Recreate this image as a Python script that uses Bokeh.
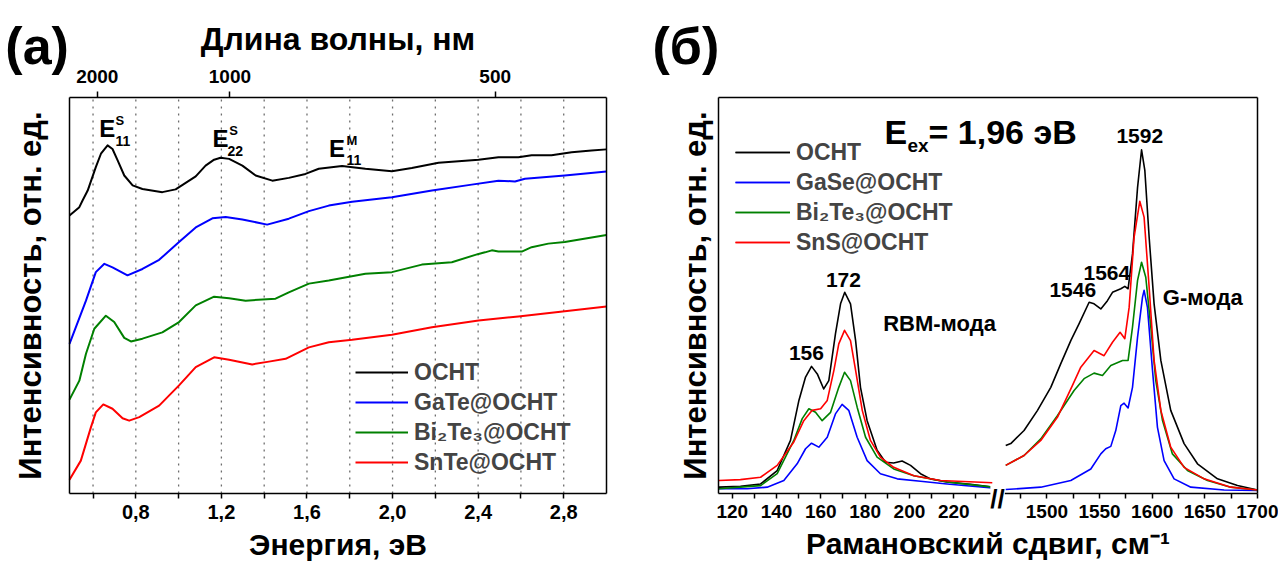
from bokeh.plotting import figure
from bokeh.models import FixedTicker, LinearAxis, Label, Legend, LegendItem, Range1d
from bokeh.layouts import row
from bokeh.embed import file_html
from bokeh.resources import INLINE

FONT = "Liberation Sans"

# ---------------- (a) absorption spectra: energy (eV) vs intensity (a.u., offset) ----------------
abs_e_osnt = [0.49, 0.536, 0.551, 0.575, 0.613, 0.637, 0.668, 0.691, 0.715, 0.746,
              0.785, 0.831, 0.924, 0.986, 1.080, 1.126, 1.166, 1.196, 1.236, 1.298,
              1.360, 1.438, 1.515, 1.593, 1.655, 1.764, 1.873, 1.997, 2.090, 2.215,
              2.402, 2.495, 2.588, 2.650, 2.743, 2.837, 2.930, 3.0]
abs_i_osnt = [7.02, 7.23, 7.40, 7.65, 8.24, 8.58, 8.79, 8.70, 8.41, 8.03,
              7.78, 7.69, 7.61, 7.68, 8.01, 8.28, 8.43, 8.48, 8.45, 8.28,
              8.03, 7.90, 7.97, 8.07, 8.20, 8.27, 8.20, 8.14, 8.22, 8.35,
              8.43, 8.49, 8.49, 8.54, 8.54, 8.62, 8.66, 8.69]

abs_e_gate = [0.49, 0.567, 0.613, 0.653, 0.691, 0.761, 0.831, 0.909, 1.002, 1.080,
              1.158, 1.220, 1.298, 1.414, 1.515, 1.609, 1.702, 1.811, 1.997, 2.184,
              2.370, 2.495, 2.572, 2.619, 2.805, 3.0]
abs_i_gate = [3.78, 4.87, 5.59, 5.80, 5.71, 5.51, 5.67, 5.90, 6.35, 6.72,
              6.95, 6.98, 6.92, 6.79, 6.94, 7.13, 7.27, 7.37, 7.48, 7.65,
              7.80, 7.90, 7.88, 7.95, 8.03, 8.13]

abs_e_bite = [0.49, 0.536, 0.567, 0.606, 0.660, 0.699, 0.746, 0.777, 0.831, 0.924,
              1.002, 1.080, 1.166, 1.236, 1.313, 1.453, 1.515, 1.609, 1.702, 1.873,
              1.997, 2.137, 2.277, 2.402, 2.432, 2.464, 2.495, 2.604, 2.650, 2.728,
              2.805, 3.0]
abs_i_bite = [2.37, 2.85, 3.53, 4.16, 4.49, 4.33, 3.93, 3.84, 3.91, 4.07,
              4.33, 4.75, 4.97, 4.93, 4.87, 4.92, 5.08, 5.30, 5.38, 5.55,
              5.59, 5.78, 5.84, 6.05, 6.09, 6.14, 6.11, 6.11, 6.22, 6.31,
              6.35, 6.53]

abs_e_snte = [0.49, 0.543, 0.590, 0.613, 0.648, 0.691, 0.738, 0.769, 0.816, 0.909,
              1.002, 1.080, 1.166, 1.236, 1.344, 1.422, 1.500, 1.609, 1.702, 1.811,
              1.997, 2.184, 2.402, 2.588, 2.805, 3.0]
abs_i_snte = [0.35, 0.83, 1.67, 2.05, 2.25, 2.14, 1.90, 1.84, 1.93, 2.22,
              2.73, 3.19, 3.44, 3.38, 3.26, 3.33, 3.40, 3.69, 3.82, 3.88,
              4.01, 4.20, 4.37, 4.47, 4.60, 4.72]

abs_labels = ["ОСНТ", "GaTe@ОСНТ", "Bi₂Te₃@ОСНТ", "SnTe@ОСНТ"]

energy_ticks = [0.6, 0.8, 1.0, 1.2, 1.4, 1.6, 1.8, 2.0, 2.2, 2.4, 2.6, 2.8]
energy_tick_labels = ["", "0,8", "", "1,2", "", "1,6", "", "2,0", "", "2,4", "", "2,8"]
wavelength_ticks = [2000, 1000, 500]
wavelength_tick_labels = ["2000", "1000", "500"]

# ---------------- (б) Raman spectra: shift (cm^-1) vs intensity ----------------
rbm_x_osnt = [114, 123.7, 132.8, 140.3, 146.3, 150.1, 153.1, 155.8, 158.4, 161.3,
              163.6, 166.6, 168.9, 170.8, 173.4, 175.7, 177.9, 180.9, 185.4, 189.2,
              192.9, 196.7, 200.5, 205.0, 209.5, 217.0, 227.6, 237.4]
rbm_i_osnt = [0.16, 0.18, 0.24, 0.58, 1.34, 2.35, 2.94, 3.21, 3.02, 2.64,
              2.85, 4.03, 4.79, 5.08, 4.79, 3.86, 2.68, 1.84, 1.09, 0.79,
              0.77, 0.82, 0.71, 0.50, 0.37, 0.29, 0.23, 0.16]

rbm_x_gase = [114, 126.8, 135.8, 143.3, 149.3, 153.1, 155.8, 159.1, 162.9, 166.6,
              169.6, 172.6, 176.4, 180.9, 186.9, 194.5, 205.0, 217.0, 237.4]
rbm_i_gase = [0.12, 0.12, 0.16, 0.33, 0.75, 1.13, 1.27, 1.17, 1.42, 2.01,
              2.25, 2.10, 1.42, 0.83, 0.50, 0.37, 0.31, 0.24, 0.14]

rbm_x_bite = [114, 123.7, 132.8, 140.3, 147.8, 151.6, 154.6, 157.6, 160.6, 164.4,
              168.1, 170.7, 173.4, 176.4, 180.2, 185.4, 192.9, 202.0, 217.0, 237.4]
rbm_i_bite = [0.12, 0.16, 0.20, 0.50, 1.34, 1.89, 2.14, 2.05, 1.84, 2.05,
              2.68, 3.06, 2.85, 2.18, 1.42, 0.92, 0.62, 0.45, 0.29, 0.16]

rbm_x_sns = [114, 123.7, 132.8, 140.3, 147.8, 152.3, 156.1, 159.9, 162.9, 165.9,
             168.1, 170.7, 173.4, 175.7, 178.7, 182.4, 186.9, 192.9, 202.0, 214.0, 237.4]
rbm_i_sns = [0.33, 0.35, 0.41, 0.71, 1.30, 1.84, 2.10, 2.14, 2.35, 3.11,
             3.78, 4.12, 3.86, 3.11, 2.10, 1.34, 0.92, 0.66, 0.45, 0.33, 0.27]

g_x_osnt = [1460.9, 1465.7, 1478.3, 1491.1, 1503.7, 1513.2, 1522.7, 1530.6, 1540.1, 1544.8,
            1551.2, 1557.5, 1562.3, 1570.2, 1574.0, 1577.1, 1581.3, 1586.1, 1589.9, 1593.0,
            1597.1, 1601.8, 1608.2, 1617.6, 1630.3, 1643.0, 1662.0, 1681.0, 1700]
g_i_osnt = [1.21, 1.26, 1.59, 2.10, 2.68, 3.28, 3.86, 4.29, 4.83, 4.79,
            4.66, 4.87, 5.08, 5.17, 5.23, 5.17, 6.05, 7.73, 8.68, 8.16,
            6.47, 4.79, 3.36, 2.10, 1.26, 0.75, 0.37, 0.20, 0.09]

g_x_gase = [1460.9, 1494.2, 1522.7, 1541.7, 1551.2, 1555.9, 1560.7, 1565.4, 1570.2, 1573.3,
            1577.1, 1581.3, 1586.1, 1590.8, 1592.3, 1595.5, 1600.3, 1605.0, 1611.3, 1620.8,
            1636.7, 1668.3, 1700]
g_i_gase = [0.10, 0.16, 0.33, 0.62, 1.00, 1.13, 1.19, 1.59, 2.22, 2.28,
            2.16, 2.68, 3.95, 4.96, 5.13, 4.70, 3.11, 1.67, 0.83, 0.37,
            0.16, 0.09, 0.08]

g_x_bite = [1460.9, 1478.3, 1494.2, 1510.1, 1525.8, 1535.3, 1544.8, 1552.8, 1560.7, 1571.8,
            1577.1, 1581.3, 1586.1, 1589.9, 1593.9, 1598.7, 1603.4, 1609.8, 1619.2, 1633.5,
            1652.5, 1674.6, 1700]
g_i_bite = [0.71, 0.96, 1.38, 1.97, 2.60, 2.90, 3.04, 2.98, 3.23, 3.36,
            3.36, 4.20, 5.38, 5.84, 5.46, 4.20, 2.85, 1.84, 1.00, 0.58,
            0.33, 0.16, 0.09]

g_x_sns = [1460.9, 1478.3, 1494.2, 1510.1, 1524.3, 1532.2, 1544.8, 1554.3, 1562.3, 1569.5,
           1574.0, 1578.1, 1582.8, 1588.2, 1592.3, 1597.1, 1601.8, 1608.2, 1617.6, 1630.3,
           1649.3, 1674.6, 1700]
g_i_sns = [0.71, 0.96, 1.34, 1.93, 2.73, 3.19, 3.61, 3.48, 3.82, 4.07,
           3.91, 4.70, 6.47, 7.38, 6.98, 5.21, 3.36, 2.10, 1.17, 0.66,
           0.37, 0.16, 0.09]

raman_labels = ["ОСНТ", "GaSe@ОСНТ", "Bi₂Te₃@ОСНТ", "SnS@ОСНТ"]

raman_tick_values = [120, 130, 140, 150, 160, 170, 180, 190, 200, 210, 220, 230,
                     1475, 1500, 1525, 1550, 1575, 1600, 1625, 1650, 1675, 1700]
raman_tick_labels = ["120", "", "140", "", "160", "", "180", "", "200", "", "220", "",
                     "", "1500", "", "1550", "", "1600", "", "1650", "", "1700"]

COLORS = ["black", "#0000ff", "#008000", "#ff0000"]

# broken-axis scale: low-shift part kept as is, G-band part compressed
BREAK_R0 = 1460.75
BREAK_U0 = 243.4
BREAK_K = 0.4754


def to_u(v):
    return v if v < 800 else BREAK_U0 + (v - BREAK_R0) * BREAK_K


# ---------------- page geometry (pixels) ----------------
PAGE_H = 567
A_W, B_W = 640, 638
A_BOX_X = (69, 606)        # left/right edge of box (a)
B_BOX_X = (718, 1257)      # left/right edge of box (б), page px
BOX_Y = (493, 97)          # bottom/top edge of both boxes
E_LIM = (0.49, 3.0)
R_LIM = (to_u(113.8), to_u(1700))
I_LIM = (0.0, 10.0)


def span(d0, d1, p0, p1, c0, c1):
    k = (d1 - d0) / (p1 - p0)
    return d0 + (c0 - p0) * k, d0 + (c1 - p0) * k


def style_axis(ax, tick_size="20px", title_size="30px"):
    ax.axis_line_color = "black"
    ax.axis_line_width = 1.5
    ax.major_tick_line_color = "black"
    ax.major_tick_line_width = 1.5
    ax.major_tick_in = 0
    ax.major_tick_out = 5
    ax.minor_tick_line_color = None
    ax.major_label_text_font = FONT
    ax.major_label_text_font_style = "bold"
    ax.major_label_text_font_size = tick_size
    ax.major_label_text_color = "black"
    ax.axis_label_text_font = FONT
    ax.axis_label_text_font_style = "bold"
    ax.axis_label_text_font_size = title_size
    ax.axis_label_text_color = "black"


def blank_axis(ax):
    ax.ticker = FixedTicker(ticks=[])
    ax.major_tick_out = 0
    ax.major_tick_in = 0
    ax.major_label_standoff = 0
    ax.axis_line_color = "black"
    ax.axis_line_width = 1.5
    ax.minor_tick_line_color = None


def add_text(p, x, y, text, size, align="left", baseline="middle", bg=None):
    lab = Label(x=x, y=y, text=text, text_font=FONT, text_font_style="bold",
                text_font_size=size, text_align=align, text_baseline=baseline,
                text_color="black")
    if bg is not None:
        lab.background_fill_color = bg
    p.add_layout(lab)


def make_fig(width, x_lim, box_x, canvas_x):
    xr = span(x_lim[0], x_lim[1], box_x[0], box_x[1], canvas_x[0], canvas_x[1])
    yr = span(I_LIM[0], I_LIM[1], BOX_Y[0], BOX_Y[1], PAGE_H, 0)
    p = figure(width=width, height=PAGE_H, x_range=Range1d(*xr), y_range=Range1d(*yr),
               output_backend="svg", toolbar_location=None, min_border=0)
    p.outline_line_color = None
    p.grid.visible = False
    p.background_fill_color = "white"
    p.border_fill_color = "white"
    return p


# ======================= panel (a) =======================
p1 = make_fig(A_W, E_LIM, A_BOX_X, (0, A_W))

xa = p1.xaxis[0]
style_axis(xa)
xa.fixed_location = I_LIM[0]
xa.bounds = E_LIM
xa.ticker = FixedTicker(ticks=energy_ticks)
xa.major_label_overrides = {t: l for t, l in zip(energy_ticks, energy_tick_labels)}
xa.major_label_standoff = 6
xa.axis_label = "Энергия, эВ"
xa.axis_label_standoff = 6

ya = p1.yaxis[0]
style_axis(ya, title_size="31px")
blank_axis(ya)
ya.fixed_location = E_LIM[0]
ya.bounds = I_LIM
ya.axis_label = "Интенсивность, отн. ед."
ya.axis_label_standoff = 22

HC = 1239.84
wl_pos = [HC / w for w in wavelength_ticks]
top = LinearAxis(ticker=FixedTicker(ticks=wl_pos), fixed_location=I_LIM[1], bounds=E_LIM)
style_axis(top, tick_size="19px", title_size="32px")
top.major_tick_out = 6
top.major_label_overrides = {t: l for t, l in zip(wl_pos, wavelength_tick_labels)}
top.major_label_standoff = 9
top.axis_label = "Длина волны, нм"
top.axis_label_standoff = 10
p1.add_layout(top, "above")

right1 = LinearAxis(fixed_location=E_LIM[1], bounds=I_LIM)
blank_axis(right1)
p1.add_layout(right1, "right")

# dotted vertical guide lines at the energy ticks
p1.segment(x0=energy_ticks, y0=I_LIM[0], x1=energy_ticks, y1=I_LIM[1],
           line_color="#6e6e6e", line_width=1.3, line_dash="2 5")

abs_series = [(abs_e_osnt, abs_i_osnt), (abs_e_gate, abs_i_gate),
              (abs_e_bite, abs_i_bite), (abs_e_snte, abs_i_snte)]
items1 = []
for (ex, iy), col, lab in zip(abs_series, COLORS, abs_labels):
    r = p1.line(ex, iy, line_color=col, line_width=2, line_join="round")
    items1.append(LegendItem(label=lab, renderers=[r]))

leg1 = Legend(items=items1, location=(355, 90), glyph_width=53, glyph_height=30,
              label_height=30, spacing=0, padding=0, margin=0, label_standoff=6,
              border_line_color=None, background_fill_alpha=0,
              label_text_font=FONT, label_text_font_style="bold",
              label_text_font_size="23px", label_text_baseline="middle")
p1.add_layout(leg1)

add_text(p1, 0.19, 11.3, "(a)", "52px")
add_text(p1, 0.629, 9.21, "E", "24px")
add_text(p1, 0.705, 9.41, "S", "13px")
add_text(p1, 0.705, 8.91, "11", "14px")
add_text(p1, 1.158, 8.96, "E", "24px")
add_text(p1, 1.237, 9.17, "S", "13px")
add_text(p1, 1.228, 8.65, "22", "14px")
add_text(p1, 1.703, 8.70, "E", "24px")
add_text(p1, 1.785, 8.91, "M", "13px")
add_text(p1, 1.785, 8.43, "11", "14px")

# ======================= panel (б) =======================
p2 = make_fig(B_W, R_LIM, B_BOX_X, (A_W, A_W + B_W))

u_ticks = [to_u(v) for v in raman_tick_values]
xb = p2.xaxis[0]
style_axis(xb, tick_size="19px")
xb.fixed_location = I_LIM[0]
xb.bounds = R_LIM
xb.ticker = FixedTicker(ticks=u_ticks)
xb.major_label_overrides = {t: l for t, l in zip(u_ticks, raman_tick_labels)}
xb.major_label_standoff = 6
xb.axis_label = "Рамановский сдвиг, см⁻¹"
xb.axis_label_standoff = 6

yb = p2.yaxis[0]
style_axis(yb, title_size="31px")
blank_axis(yb)
yb.fixed_location = R_LIM[0]
yb.bounds = I_LIM
yb.axis_label = "Интенсивность, отн. ед."
yb.axis_label_standoff = 6

right2 = LinearAxis(fixed_location=R_LIM[1], bounds=I_LIM)
blank_axis(right2)
p2.add_layout(right2, "right")
top2 = LinearAxis(fixed_location=I_LIM[1], bounds=R_LIM)
blank_axis(top2)
p2.add_layout(top2, "above")

rbm_series = [(rbm_x_osnt, rbm_i_osnt), (rbm_x_gase, rbm_i_gase),
              (rbm_x_bite, rbm_i_bite), (rbm_x_sns, rbm_i_sns)]
g_series = [(g_x_osnt, g_i_osnt), (g_x_gase, g_i_gase),
            (g_x_bite, g_i_bite), (g_x_sns, g_i_sns)]
items2 = []
for (rx, ri), (gx, gi), col, lab in zip(rbm_series, g_series, COLORS, raman_labels):
    r_a = p2.line([to_u(v) for v in rx], ri, line_color=col, line_width=1.6, line_join="round")
    r_b = p2.line([to_u(v) for v in gx], gi, line_color=col, line_width=1.6, line_join="round")
    items2.append(LegendItem(label=lab, renderers=[r_a, r_b]))

leg2 = Legend(items=items2, location=(95, 310), glyph_width=55, glyph_height=30,
              label_height=30, spacing=0, padding=0, margin=0, label_standoff=6,
              border_line_color=None, background_fill_alpha=0,
              label_text_font=FONT, label_text_font_style="bold",
              label_text_font_size="23px", label_text_baseline="middle")
p2.add_layout(leg2)

add_text(p2, 84.0, 11.3, "(б)", "52px")
add_text(p2, to_u(188.7), 9.12, "E", "34px")
add_text(p2, to_u(199.1), 8.79, "ex", "19px")
add_text(p2, to_u(208.6), 9.12, "= 1,96 эВ", "34px")
add_text(p2, to_u(153.5), 3.54, "156", "21px", align="center")
add_text(p2, to_u(170.2), 5.38, "172", "21px", align="center")
add_text(p2, to_u(213.6), 4.29, "RBM-мода", "22px", align="center")
add_text(p2, to_u(1524.6), 5.13, "1546", "21px", align="center")
add_text(p2, to_u(1556.9), 5.58, "1564", "21px", align="center")
add_text(p2, to_u(1588.2), 9.04, "1592", "21px", align="center")
add_text(p2, to_u(1648.0), 4.95, "G-мода", "22px", align="center")
add_text(p2, 239.8, -0.15, "//", "26px", align="center", bg="white")

layout = row(p1, p2)
open("out.html", "w").write(file_html(layout, INLINE))
